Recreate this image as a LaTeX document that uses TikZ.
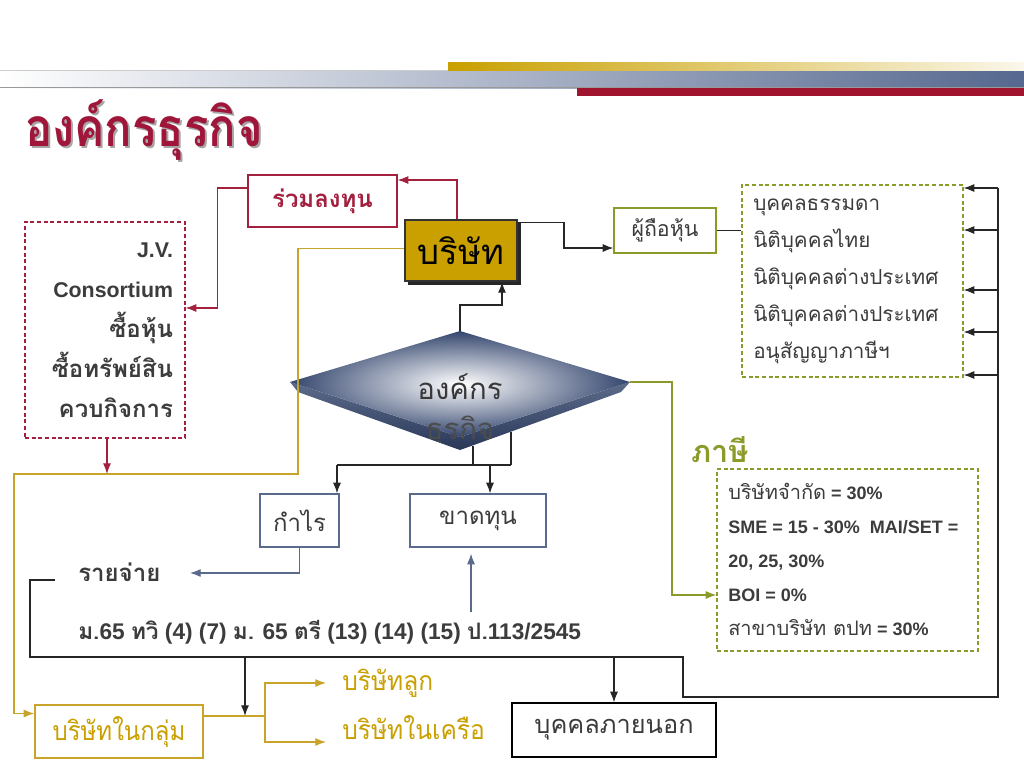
\documentclass[tikz,border=0pt]{standalone}
\usepackage{graphicx}
\usepackage{fontspec}
\setmainfont{Liberation Sans}
\newfontfamily\thai[Script=Thai]{Loma}
\usetikzlibrary{arrows.meta,calc}
\definecolor{crim}{HTML}{A3203F}
\definecolor{ttl}{HTML}{A0153A}
\definecolor{gld}{HTML}{C9A000}
\definecolor{gldl}{HTML}{C8A52A}
\definecolor{olv}{HTML}{8C9A2A}
\definecolor{slt}{HTML}{5A6A8C}
\definecolor{dtx}{HTML}{3C3C3C}
\definecolor{navy}{HTML}{34466E}
\definecolor{hdr}{HTML}{56688F}
\definecolor{redbar}{HTML}{A0142E}
\begin{document}
\begin{tikzpicture}[x=0.75pt,y=-0.75pt,
  arr/.style={-{Latex[length=8pt,width=6pt]}},
  ln/.style={line width=0.9pt},
  crl/.style={ln,draw=crim},
  gl/.style={ln,draw=gldl},
  ol/.style={ln,draw=olv},
  sl/.style={ln,draw=slt},
  bl/.style={ln,draw=black!85},
  dsh/.style={dash pattern=on 3pt off 2pt},
  thbox/.style={inner sep=0, line width=0.9pt, text=dtx}
]
\useasboundingbox[fill=white] (0,0) rectangle (1024,768);
% header bars
\shade[left color=white, right color=hdr] (0,70) rectangle (1024,88);
\draw[line width=0.6pt, black!20] (0,70.5) -- (1024,70.5);
\draw[line width=0.8pt, black!40] (0,87.5) -- (1024,87.5);
\shade[left color=gld, right color=gld!8] (448,62) rectangle (1024,70);
\fill[redbar] (577,88) rectangle (1024,96);
% title
\node[anchor=west, inner sep=0, text=black!35, font=\thai\bfseries\fontsize{40}{44}\selectfont] (titleshadow) at (27,132) {\scalebox{0.85}[1]{องค์กรธุรกิจ}};
\node[anchor=west, inner sep=0, text=ttl, font=\thai\bfseries\fontsize{40}{44}\selectfont] (title) at (25,130) {\scalebox{0.85}[1]{องค์กรธุรกิจ}};

% boxes
\node[thbox, draw=crim, minimum width=111.75pt, minimum height=39pt, text=crim, font=\thai\bfseries\fontsize{18}{22}\selectfont] (rl) at (322.5,201) {ร่วมลงทุน};
\fill[black!85] (408,223) rectangle (521,285);
\node[inner sep=0, draw=black!80, line width=1.6pt, fill=gld, minimum width=84pt, minimum height=45.75pt, text=black, font=\thai\fontsize{26}{30}\selectfont] (bs) at (461,250.5) {บริษัท};
\node[thbox, draw=crim, dsh, minimum width=120pt, minimum height=162pt, align=right, text width=102pt, font=\bfseries\fontsize{16}{30}\selectfont] (jv) at (105,330)
  {J.V.\\Consortium\\{\thai\fontsize{18}{30}\selectfont ซื้อหุ้น}\\{\thai\fontsize{18}{30}\selectfont ซื้อทรัพย์สิน}\\{\thai\fontsize{18}{30}\selectfont ควบกิจการ}};
\node[thbox, draw=olv, minimum width=76.5pt, minimum height=33.75pt, font=\thai\fontsize{16}{20}\selectfont] (sh) at (665,230.5) {ผู้ถือหุ้น};
\node[thbox, draw=olv, dsh, minimum width=165.75pt, minimum height=144pt] (lst) at (852.5,281) {};
\node[anchor=west, align=left, inner sep=0, text=dtx, font=\thai\fontsize{15.5}{27.75}\selectfont] (lsttext) at (753,281)
  {บุคคลธรรมดา\\นิติบุคคลไทย\\นิติบุคคลต่างประเทศ\\นิติบุคคลต่างประเทศ\\อนุสัญญาภาษีฯ};
\node[text=olv, inner sep=0, font=\thai\bfseries\fontsize{23}{28}\selectfont] (tx) at (720,450) {ภาษี};
\node[thbox, draw=olv, dsh, minimum width=195.75pt, minimum height=136.5pt] (tax) at (847.5,560) {};
\node[anchor=west, align=left, inner sep=0, text=dtx, font=\bfseries\fontsize{13.5}{25.5}\selectfont] (taxtext) at (728,559)
  {{\thai\mdseries\fontsize{15}{25.5}\selectfont บริษัทจำกัด} = 30\%\\SME = 15 - 30\%\ \ MAI/SET =\\20, 25, 30\%\\BOI = 0\%\\{\thai\mdseries\fontsize{15}{25.5}\selectfont สาขาบริษัท ตปท} = 30\%};
\node[thbox, draw=slt, minimum width=59.25pt, minimum height=39.75pt, font=\thai\fontsize{18}{22}\selectfont] (kr) at (299.5,520.5) {กำไร};
\node[thbox, draw=slt, minimum width=102pt, minimum height=39.75pt, font=\thai\fontsize{18}{22}\selectfont] (kt) at (478,520.5) {ขาดทุน};
\node[anchor=west, inner sep=0, text=dtx, font=\thai\bfseries\fontsize{18}{22}\selectfont] (rj) at (78,572) {รายจ่าย};
\node[anchor=west, inner sep=0, text=dtx, font=\bfseries\fontsize{17}{20}\selectfont] (law) at (78,632)
  {{\thai ม.}65 {\thai ทวิ} (4) (7) {\thai ม.} 65 {\thai ตรี} (13) (14) (15) {\thai ป.}113/2545};
\node[thbox, draw=gldl, minimum width=126pt, minimum height=39.75pt, text=gld, font=\thai\fontsize{20}{24}\selectfont] (ig) at (119,731.5) {\scalebox{0.9}[1]{บริษัทในกลุ่ม}};
\node[anchor=west, inner sep=0, text=gld, font=\thai\fontsize{20}{24}\selectfont] (ch1) at (342,683) {\scalebox{0.92}[1]{บริษัทลูก}};
\node[anchor=west, inner sep=0, text=gld, font=\thai\fontsize{20}{24}\selectfont] (ch2) at (342,728) {\scalebox{0.92}[1]{บริษัทในเครือ}};
\node[thbox, draw=black, minimum width=153pt, minimum height=40.5pt, font=\thai\fontsize{19}{23}\selectfont] (ext) at (614,730) {บุคคลภายนอก};

% diamond
\coordinate (dmT) at (460,331);
\coordinate (dmL) at (290,382);
\coordinate (dmR) at (630,382);
\coordinate (dmB) at (460,450);
\shade[top color=navy!80, bottom color=navy!80!black] (dmL) -- (298,392) -- (dmB) -- (621,392) -- (dmR) -- (460,437) -- cycle;
\shade[inner color=white, middle color=navy!45, outer color=navy] (dmT) -- (dmR) -- (460,437) -- (dmL) -- cycle;
\node[inner sep=0, text=black!78, font=\thai\fontsize{22}{26}\selectfont] (dm) at (460,387) {องค์กร};
\begin{scope}
\clip (dmT) -- (dmR) -- (621,392) -- (dmB) -- (298,392) -- (dmL) -- cycle;
\node[inner sep=0, text=black!70, font=\thai\fontsize{22}{26}\selectfont] (dm2) at (460,432) {ธุรกิจ};
\end{scope}

% connectors: crimson
\draw[crl,arr] ($(bs.north)+(-4,0)$) |- ($(rl.east)+(0,-21)$);
\draw[crl,arr] ($(rl.west)+(0,-13)$) -- ++(-30,0) |- ($(jv.east)+(0,-22)$);
% gold
\coordinate (gA) at (298,474);
\coordinate (gB) at (14,474);
\draw[gl,arr] ($(bs.west)+(0,-2)$) -| (gA) -- (gB) |- ($(ig.west)+(0,-18)$);
\coordinate (jvb) at ($(jv.south)+(2,0)$);
\draw[crl,arr] (jvb) -- (jvb |- gA);
% black to shareholders
\draw[bl,arr] ($(bs.east)+(0,-28)$) -- ++(46,0) |- ($(sh.west)+(0,17.5)$);
\draw[bl] (sh.east) -- (sh.east -| lst.west);
% diamond to company
\draw[bl,arr] (dmT) -- ++(0,-26) -| ($(bs.south)+(41,0)$);
% diamond to tax
\draw[ol,arr] (dmR) -- ++(42,0) |- ($(tax.west)+(0,35)$);
% diamond to profit / loss
\coordinate (h1) at (337,465);
\coordinate (h2) at (490,465);
\coordinate (h3) at (511,465);
\draw[bl] (473,446) -- (473,465);
\draw[bl] (511,432) -- (h3);
\draw[bl] (h1) -- (h3);
\draw[bl,arr] (h1) -- (h1 |- kr.north);
\draw[bl,arr] (h2) -- (h2 |- kt.north);
% slate
\coordinate (rjA) at (190,573);
\draw[sl,arr] (kr.south) |- (rjA);
\coordinate (kA) at (471,612);
\draw[sl,arr] (kA) -- ($(kt.south)+(-7,6)$);
% big loop
\coordinate (L3) at (55,580);
\coordinate (L2) at (30,580);
\coordinate (L1) at (30,657);
\coordinate (R4) at (683,657);
\coordinate (R3) at (683,697);
\coordinate (R2) at (998,697);
\coordinate (R1) at (998,188);
\draw[bl] (L3) -- (L2) -- (L1) -- (R4) -- (R3) -- (R2) -- (R1);
\foreach \yy [count=\i] in {188,230,290,332,375}{
  \coordinate (r\i) at (998,\yy);
  \draw[bl,arr] (r\i) -- (r\i -| lst.east);
}
\coordinate (d1) at (245,657);
\coordinate (d2) at (614,657);
\coordinate (bj) at (265,716);
\draw[bl,arr] (d1) -- (d1 |- bj);
\draw[bl,arr] (d2) -- (ext.north);
% group branches
\coordinate (bt) at (265,683);
\coordinate (bb) at (265,742);
\draw[gl] (ig.east |- bj) -- (bj);
\draw[gl,arr] (bj) -- (bt) -- ([xshift=-12pt]ch1.west);
\draw[gl,arr] (bj) -- (bb) -- ([xshift=-12pt]ch2.west |- bb);
\end{tikzpicture}
\end{document}
